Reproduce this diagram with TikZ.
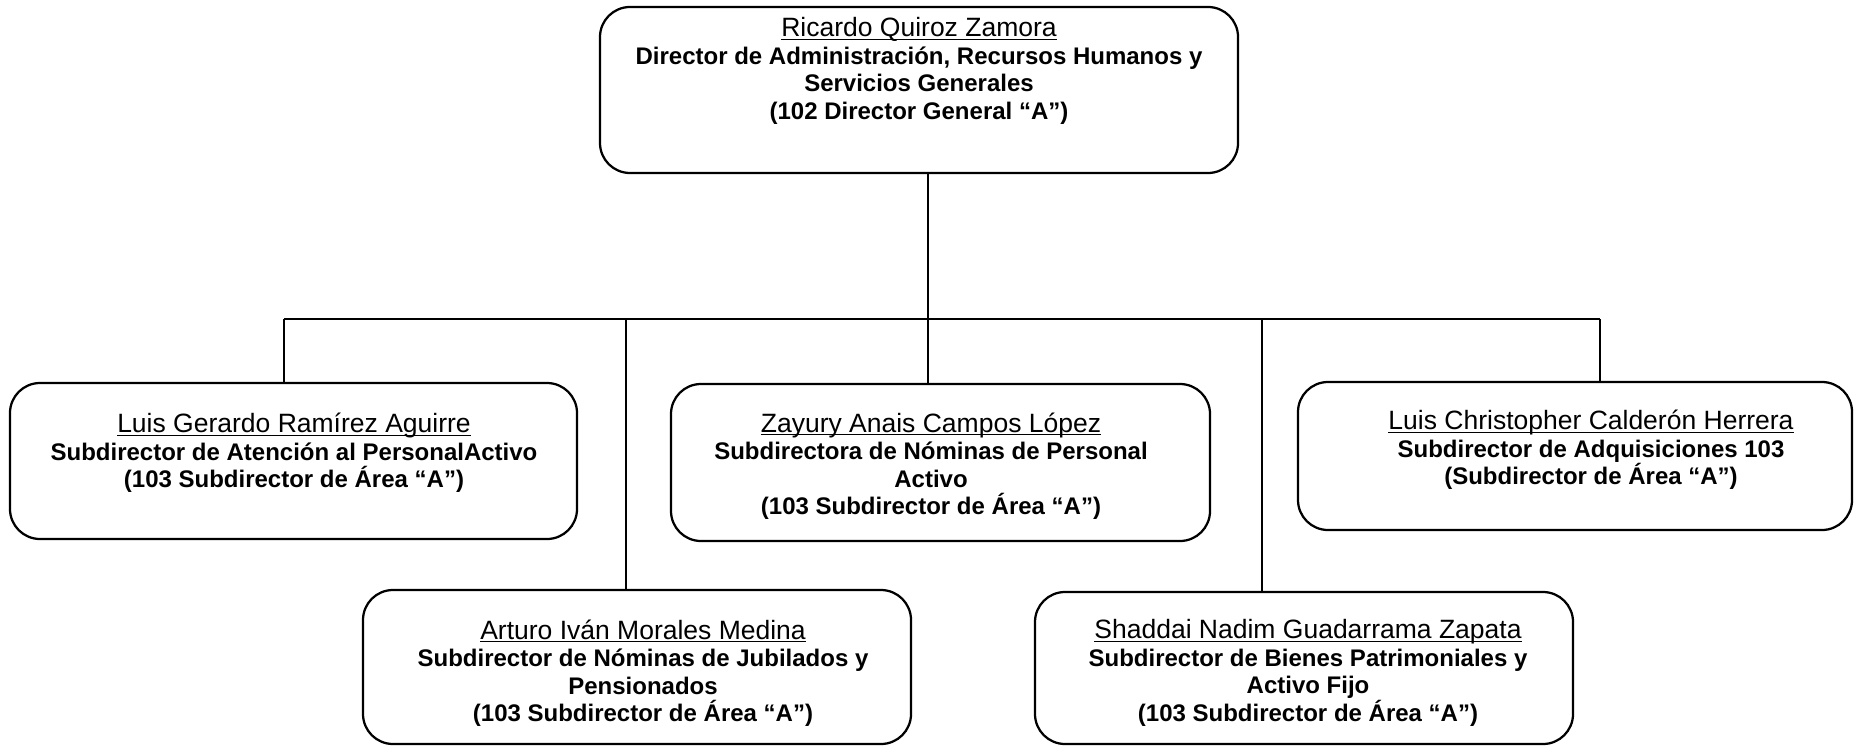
\documentclass[tikz,border=0pt]{standalone}
\usepackage{fontspec}
\setmainfont{Liberation Sans}
\usetikzlibrary{positioning}
\newcommand{\persona}[1]{{\fontsize{10.6}{11}\selectfont\mdseries\setbox0\hbox{#1}\rlap{\rule[-1.3pt]{\wd0}{0.55pt}}\box0}}

\begin{document}
\begin{tikzpicture}[x=0.4pt,y=-0.4pt,
		box/.style={draw, line width=0.9pt, rounded corners=12pt, inner sep=0pt},
		txt/.style={align=center, inner sep=0pt, font=\fontsize{9.6}{11}\selectfont\bfseries},
		link/.style={line width=0.8pt}]
			\useasboundingbox (0,0) rectangle (1859,746);
			% boxes
			\node[box, minimum width=255.2pt, minimum height=66.4pt] (dir) at (919,90) {};
			\node[box, minimum width=226.8pt, minimum height=62.4pt] (atencion) at (293.5,461) {};
			\node[box, minimum width=215.6pt, minimum height=62.8pt] (nominas) at (940.5,462.5) {};
			\node[box, minimum width=221.6pt, minimum height=59.2pt] (adquis) at (1575,456) {};
			\node[box, minimum width=219.2pt, minimum height=61.6pt] (jubilados) at (637,667) {};
			\node[box, minimum width=215.2pt, minimum height=60.8pt] (bienes) at (1304,668) {};
			% texts
			\node[txt] (dirT) at (919,71) {\persona{Ricardo Quiroz Zamora}\\ Director de Administración, Recursos Humanos y\\ Servicios Generales\\ (102 Director General “A”)};
			\node[txt] (atencionT) at (294,453) {\persona{Luis Gerardo Ramírez Aguirre}\\ Subdirector de Atención al PersonalActivo\\ (103 Subdirector de Área “A”)};
			\node[txt] (nominasT) at (931,466) {\persona{Zayury Anais Campos López}\\ Subdirectora de Nóminas de Personal\\ Activo\\ (103 Subdirector de Área “A”)};
			\node[txt] (adquisT) at (1591,450) {\persona{Luis Christopher Calderón Herrera}\\ Subdirector de Adquisiciones 103\\ (Subdirector de Área “A”)};
			\node[txt] (jubiladosT) at (643,673) {\persona{Arturo Iván Morales Medina}\\ Subdirector de Nóminas de Jubilados y\\ Pensionados\\ (103 Subdirector de Área “A”)};
			\node[txt] (bienesT) at (1308,673) {\persona{Shaddai Nadim Guadarrama Zapata}\\ Subdirector de Bienes Patrimoniales y\\ Activo Fijo\\ (103 Subdirector de Área “A”)};
			% connectors
			\coordinate (hub) at (928,319);
			\draw[link] (dir.south -| hub) -- (hub);
			\foreach \x/\n in {284/atencion, 626/jubilados, 928/nominas, 1262/bienes, 1600/adquis} {
				\coordinate (j\n) at (\x,319);
				\draw[link] (j\n) -- (j\n |- \n.north);
			}
			\draw[link] (jatencion) -- (jadquis);
		\end{tikzpicture}
\end{document}
